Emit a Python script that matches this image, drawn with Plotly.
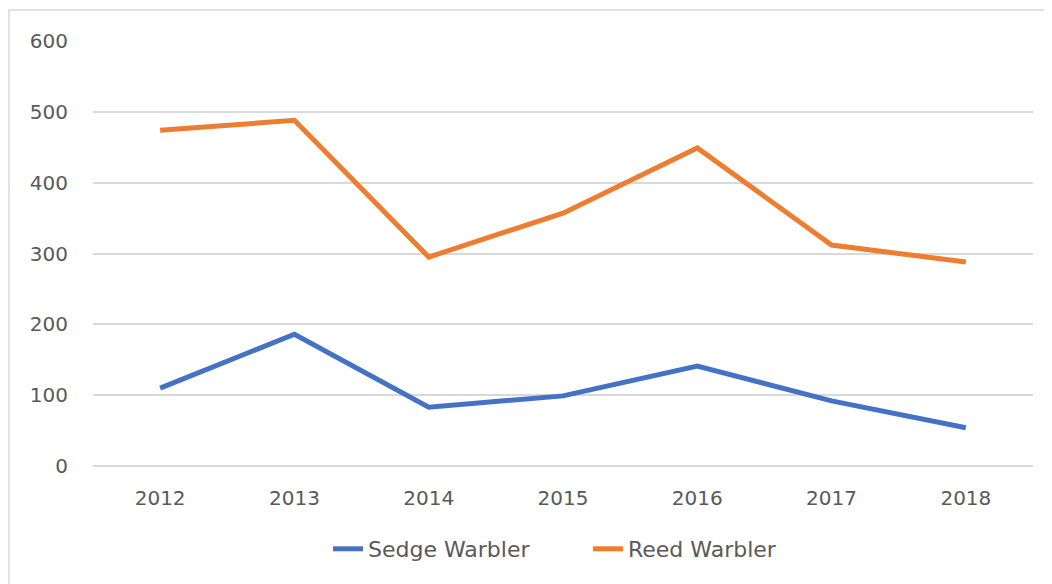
import plotly.graph_objects as go

years = ["2012", "2013", "2014", "2015", "2016", "2017", "2018"]
sedge_warbler = [110, 186, 83, 99, 141, 92, 54]
reed_warbler = [474, 488, 295, 357, 449, 312, 288]
y_ticks = [0, 100, 200, 300, 400, 500, 600]

FONT = "DejaVu Sans, sans-serif"
GREY = "#595959"
GRID = "#d9d9d9"

# plot area in figure coordinates (page has an 8px body offset)
L, R, T, B = 85, 1025, 33, 458
W, H = 1052, 584

fig = go.Figure()
fig.add_trace(go.Scatter(x=years, y=sedge_warbler, mode="lines", name="Sedge Warbler",
                         line=dict(color="#4472C4", width=5)))
fig.add_trace(go.Scatter(x=years, y=reed_warbler, mode="lines", name="Reed Warbler",
                         line=dict(color="#ED7D31", width=5)))

fig.update_layout(
    width=W, height=H,
    margin=dict(l=L, r=W - R, t=T, b=H - B, autoexpand=False),
    paper_bgcolor="white", plot_bgcolor="white",
    font=dict(family=FONT, size=20, color=GREY),
    showlegend=True,
    legend=dict(orientation="h", x=(328 - 8 - L) / (R - L), y=-(549 - 8 - B) / (B - T),
                xanchor="left", yanchor="middle", entrywidth=215,
                font=dict(family=FONT, size=22, color=GREY),
                bgcolor="rgba(0,0,0,0)"),
    xaxis=dict(type="category", range=[-0.5, 6.5], showgrid=False, showline=False, zeroline=False,
               ticks="", ticklabelstandoff=18,
               tickfont=dict(family=FONT, size=20, color=GREY)),
    yaxis=dict(range=[0, 600], tickvals=y_ticks, showgrid=True, gridcolor=GRID, gridwidth=1.5,
               zeroline=True, zerolinecolor=GRID, zerolinewidth=1.5, showline=False,
               ticks="", ticklabelstandoff=24,
               tickfont=dict(family=FONT, size=20, color=GREY)),
    shapes=[dict(type="rect", xref="paper", yref="paper",
                 x0=(1 - L) / (R - L), x1=1.06, y0=-0.4, y1=1 + (T - 2) / (B - T),
                 line=dict(color=GRID, width=1.5), fillcolor="rgba(0,0,0,0)", layer="below")],
)

fig.write_html("out.html")
